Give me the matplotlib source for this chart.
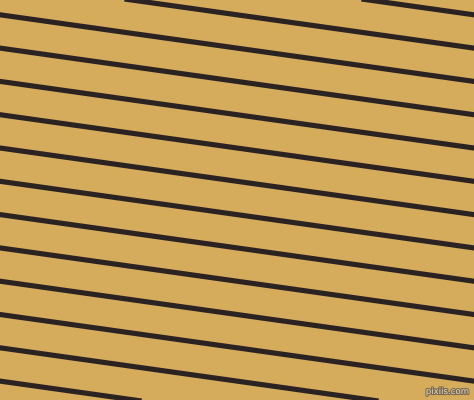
import numpy as np
import matplotlib
matplotlib.use("Agg")
import matplotlib.pyplot as plt
import matplotlib.patheffects as pe

# Stripe pattern data: y-intercepts (pixels at x=0) of each dark line
intercepts = [-85.1, -51.8, -18.5, 14.8, 48.1, 81.4, 114.7, 148.0,
              181.3, 214.6, 247.9, 281.2, 314.5, 347.8, 381.1]
angle_deg = 8.0
watermark = "pixiis.com"

bg_color = "#D5AB5C"
line_color = "#2A2321"

W, H = 474, 400
fig = plt.figure(figsize=(W / 100, H / 100), dpi=100)
fig.patch.set_facecolor(bg_color)
ax = fig.add_axes([0, 0, 1, 1])
ax.set_facecolor(bg_color)
ax.set_xlim(0, W)
ax.set_ylim(H, 0)
ax.axis("off")

slope = np.tan(np.radians(angle_deg))
xs = np.array([-10, W + 10])
for b in intercepts:
    ax.plot(xs, b + slope * xs, color=line_color, linewidth=3.7,
            solid_capstyle="butt")

ax.text(469, 391.5, watermark, ha="right", va="center", fontsize=6.2,
        color="#E8DCC0", family="DejaVu Sans Condensed",
        path_effects=[pe.withStroke(linewidth=1.6, foreground="#7A6A50")])

fig.savefig("out.png", dpi=100, facecolor=bg_color)
